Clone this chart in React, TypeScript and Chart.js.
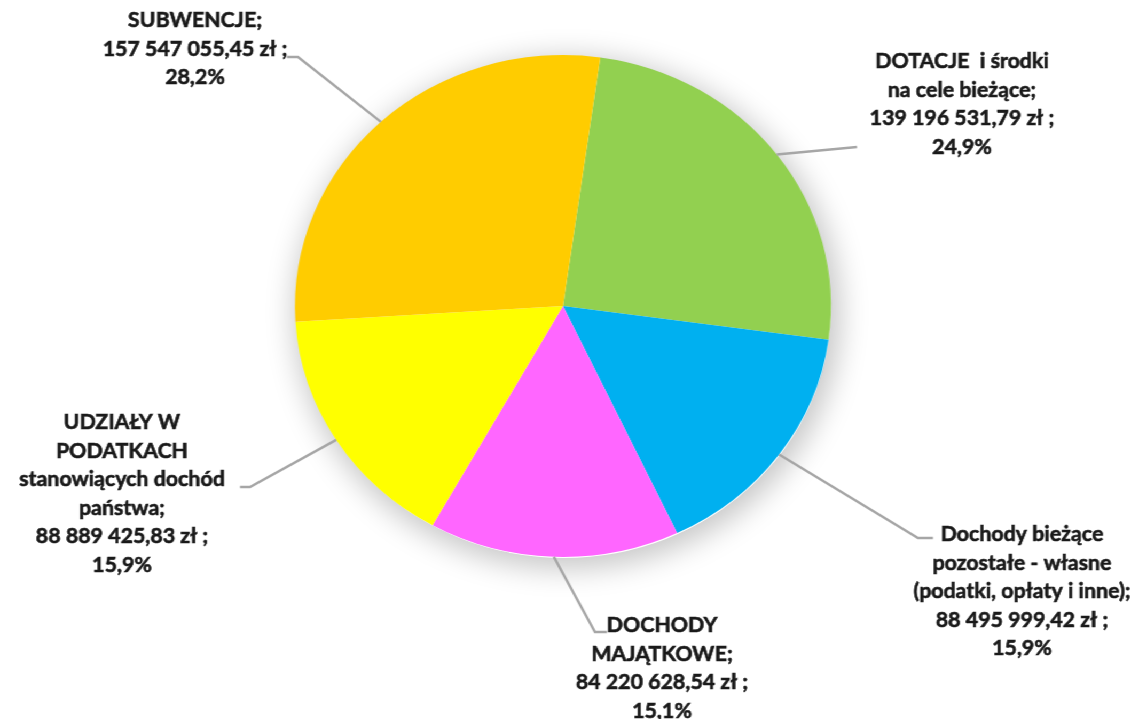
import React, { useEffect, useRef } from "react";
import { Chart, registerables } from "chart.js";

Chart.register(...registerables);

// Data (clockwise from the top)
const categories: string[][] = [
  ["DOTACJE  i środki", "na cele bieżące;", "139 196 531,79 zł ;", "24,9%"],
  ["Dochody bieżące", "pozostałe - własne", "(podatki, opłaty i inne);", "88 495 999,42 zł ;", "15,9%"],
  ["DOCHODY", "MAJĄTKOWE;", "84 220 628,54 zł ;", "15,1%"],
  ["UDZIAŁY W", "PODATKACH", "stanowiących dochód", "państwa;", "88 889 425,83 zł ;", "15,9%"],
  ["SUBWENCJE;", "157 547 055,45 zł ;", "28,2%"],
];
const values: number[] = [139196531.79, 88495999.42, 84220628.54, 88889425.83, 157547055.45];
const colors: string[] = ["#92D050", "#00B0F0", "#FF66FF", "#FFFF00", "#FFCC00"];

// Label layout (reference pixel coords): text center x, first line y, elbow x/y, end x
const labelCx: number[] = [962, 1022, 662, 122, 195];
const labelY0: number[] = [62, 535, 626, 423, 21];
const elbowX: number[] = [857, 918, 595, 250, 298];
const elbowY: number[] = [147, 538, 632, 487, 57];
const endX: number[] = [857, 933, 607, 240, 287];

const SX = 1.068;
const W = Math.round(1145 / SX);
const H = 719;
const LH = 28.5;
const CX = 563 / SX;
const CY = 306;
const R = 251;

const labelPlugin = {
  id: "pieLabels",
  afterDatasetsDraw(chart: any) {
    const ctx = chart.ctx;
    const meta = chart.getDatasetMeta(0);
    meta.data.forEach((arc: any, i: number) => {
      const { x, y, startAngle, endAngle, outerRadius } = arc.getProps(
        ["x", "y", "startAngle", "endAngle", "outerRadius"],
        true
      );
      const mid = (startAngle + endAngle) / 2;
      const px = x + Math.cos(mid) * outerRadius;
      const py = y + Math.sin(mid) * outerRadius;
      ctx.save();
      ctx.strokeStyle = "#A6A6A6";
      ctx.lineWidth = 2.4;
      ctx.beginPath();
      ctx.moveTo(px, py);
      ctx.lineTo(elbowX[i] / SX, elbowY[i]);
      ctx.lineTo(endX[i] / SX, elbowY[i]);
      ctx.stroke();
      ctx.fillStyle = "#1A1A1A";
      ctx.strokeStyle = "#1A1A1A";
      ctx.lineWidth = 0.6;
      ctx.font = "bold 20px Lato";
      ctx.textAlign = "center";
      ctx.textBaseline = "middle";
      categories[i].forEach((line, k) => {
        const tx = labelCx[i] / SX;
        const ty = labelY0[i] + k * LH;
        ctx.fillText(line, tx, ty);
        ctx.strokeText(line, tx, ty);
      });
      ctx.restore();
    });
  },
};

export default function App() {
  const ref = useRef<HTMLCanvasElement | null>(null);
  useEffect(() => {
    if (!ref.current) return;
    const chart = new Chart(ref.current, {
      type: "pie",
      data: {
        labels: categories.map((c) => c.join(" ")),
        datasets: [
          {
            data: values,
            backgroundColor: colors,
            borderWidth: 0,
          },
        ],
      },
      options: {
        responsive: false,
        animation: false,
        rotation: 8,
        layout: {
          padding: {
            left: CX - R,
            right: W - (CX + R),
            top: CY - R,
            bottom: H - (CY + R),
          },
        },
        plugins: {
          legend: { display: false },
          tooltip: { enabled: false },
        },
      },
      plugins: [labelPlugin],
    });
    return () => chart.destroy();
  }, []);
  return (
    <div
      style={{
        position: "fixed",
        left: 0,
        top: 0,
        width: W,
        height: H,
        background: "#ffffff",
        transform: `scaleX(${SX})`,
        transformOrigin: "0 0",
      }}
    >
      <div
        style={{
          position: "absolute",
          left: CX - R + 2,
          top: CY - R + 3,
          width: 2 * R - 2,
          height: 2 * R - 2,
          borderRadius: "50%",
          background: "#ffffff",
          boxShadow: "3px 5px 28px 6px rgba(0,0,0,0.22)",
        }}
      />
      <canvas
        ref={ref}
        width={W}
        height={H}
        style={{ position: "absolute", left: 0, top: 0, width: W, height: H }}
      />
    </div>
  );
}
